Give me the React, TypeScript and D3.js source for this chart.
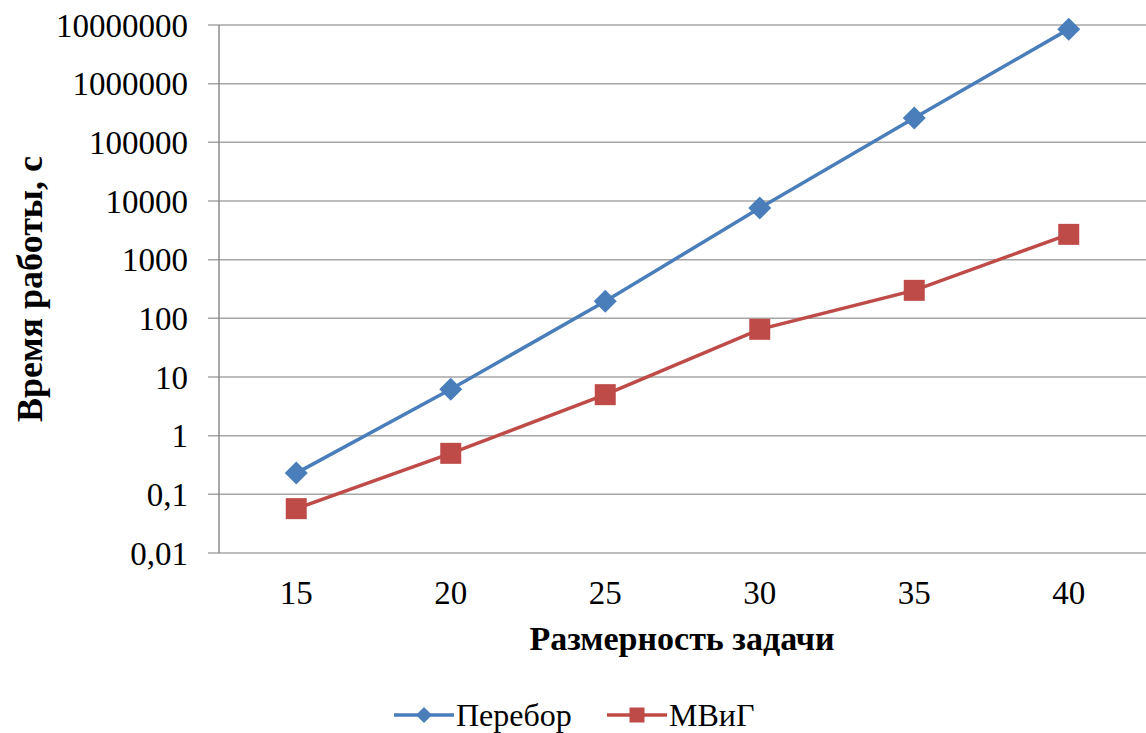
import React, { useEffect, useRef } from 'react';
import * as d3 from 'd3';

// Размерность задачи vs время работы (log scale)
const sizes = ['15', '20', '25', '30', '35', '40'];
const bruteForce = [0.23, 6.2, 195, 7600, 260000, 8500000];
const mvig = [0.057, 0.5, 5, 65, 300, 2700];
const yTicks = [0.01, 0.1, 1, 10, 100, 1000, 10000, 100000, 1000000, 10000000];

const series = [
  { name: 'Перебор', values: bruteForce, color: '#4A7EBB', marker: 'diamond' },
  { name: 'МВиГ', values: mvig, color: '#BE4B48', marker: 'square' },
];

const width = 1146;
const height = 733;
const margin = { top: 25, right: 0, bottom: 180, left: 219 };

function Marker({ type, x, y, r, color }: { type: string; x: number; y: number; r: number; color: string }) {
  if (type === 'diamond') {
    return <path d={`M${x},${y - r}L${x + r},${y}L${x},${y + r}L${x - r},${y}Z`} fill={color} />;
  }
  return <rect x={x - r} y={y - r} width={2 * r} height={2 * r} fill={color} />;
}

export default function App() {
  const svgRef = useRef<SVGSVGElement>(null);

  useEffect(() => {
    // force the serif face on every label
    d3.select(svgRef.current).selectAll('text').each(function () {
      (this as SVGTextElement).style.setProperty('font-family', '"Liberation Serif", Tinos, serif', 'important');
    });
  }, []);

  const x = d3.scalePoint<string>()
    .domain(sizes)
    .range([margin.left, width - margin.right])
    .padding(0.5);

  const y = d3.scaleLog()
    .domain([0.01, 10000000])
    .range([height - margin.bottom, margin.top]);

  const fmt = (d: number) => String(d).replace('.', ',');

  const line = d3.line<number>()
    .x((_, i) => x(sizes[i]) as number)
    .y(d => y(d));

  const bottom = height - margin.bottom;

  return (
    <div style={{ position: 'absolute', left: 0, top: 0, width, height, overflow: 'hidden' }}>
      <style>{`#chart text { font-family: "Liberation Serif", Tinos, serif !important; }`}</style>
      <svg id="chart" ref={svgRef} width={width} height={height} fontFamily="Liberation Serif">
        {/* Grid + y ticks */}
        {yTicks.map(t => (
          <g key={t}>
            <line x1={margin.left - 11} x2={width} y1={y(t)} y2={y(t)} stroke="#A6A6A6" strokeWidth={1.5} />
            <text x={margin.left - 31} y={y(t)} dy="0.35em" textAnchor="end" fontSize={33}>{fmt(t)}</text>
          </g>
        ))}
        {/* y axis line */}
        <line x1={margin.left} x2={margin.left} y1={margin.top} y2={bottom} stroke="#8C8C8C" strokeWidth={1.5} />

        {/* x labels */}
        {sizes.map(s => (
          <text key={s} x={x(s)} y={bottom + 51} textAnchor="middle" fontSize={33}>{s}</text>
        ))}

        {/* Axis titles */}
        <text x={682} y={bottom + 97} textAnchor="middle" fontSize={34} fontWeight="bold">Размерность задачи</text>
        <text transform={`translate(42,${(margin.top + bottom) / 2}) rotate(-90)`} textAnchor="middle"
          fontSize={36} fontWeight="bold">Время работы, с</text>

        {/* Series */}
        {series.map(s => (
          <g key={s.name}>
            <path d={line(s.values) || ''} fill="none" stroke={s.color} strokeWidth={3.5} />
            {s.values.map((v, i) => (
              <Marker key={i} type={s.marker} x={x(sizes[i]) as number} y={y(v)}
                r={s.marker === 'diamond' ? 11.5 : 10.5} color={s.color} />
            ))}
          </g>
        ))}

        {/* Legend */}
        {series.map((s, i) => {
          const lx = i === 0 ? 394 : 607;
          const ly = 715;
          return (
            <g key={s.name}>
              <line x1={lx} x2={lx + 60} y1={ly} y2={ly} stroke={s.color} strokeWidth={3.5} />
              <Marker type={s.marker} x={lx + 30} y={ly} r={s.marker === 'diamond' ? 8 : 7.5} color={s.color} />
              <text x={lx + 62} y={ly} dy="0.35em" fontSize={32}>{s.name}</text>
            </g>
          );
        })}
      </svg>
    </div>
  );
}
